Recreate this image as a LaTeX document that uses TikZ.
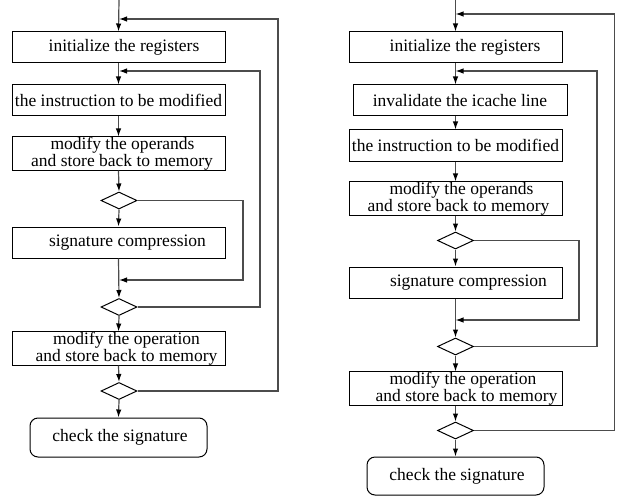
\documentclass[tikz,border=0pt]{standalone}
\usepackage{fontspec}
\setmainfont{Liberation Serif}
\usetikzlibrary{shapes.geometric,arrows.meta}
\newcommand{\sh}[1]{\hspace*{#1pt}}
\begin{document}
\begin{tikzpicture}[x=1pt,y=-1pt,
  box/.style={draw=black,line width=1pt,minimum width=213pt,minimum height=31pt,inner sep=0pt,
    align=center,font=\fontsize{17.5pt}{12.5pt}\selectfont},
  endbox/.style={box,rounded corners=8pt,minimum width=177pt,minimum height=39pt},
  dia/.style={draw=black,line width=1pt,diamond,minimum width=36pt,minimum height=17pt,inner sep=0pt},
  conn/.style={draw=black!70,line width=1.2pt},
  arr/.style={conn,-{Latex[color=black,length=8pt,width=5.5pt]}}]
\useasboundingbox (0,0) rectangle (617,497);
% ---------- left chart ----------
\node[box] (initL) at (118.5,47.5) {\sh{11}initialize the registers};
\node[box] (instrL) at (118.5,100.5) {the instruction to be modified};
\node[box] (opndL) at (118.5,153.5) {\sh{8}modify the operands\\\sh{7}and store back to memory};
\node[dia] (d1L) at (119,200.5) {};
\node[box] (sigL) at (118.5,242.5) {\sh{18}signature compression};
\node[dia] (d2L) at (119,307) {};
\node[box] (oprL) at (118.5,348.5) {\sh{16}modify the operation\\\sh{16}and store back to memory};
\node[dia] (d3L) at (119,391) {};
\node[endbox] (chkL) at (118.5,437.5) {\sh{3}check the signature};
\coordinate (topL) at (119,0);
\coordinate (jL1) at (119,19);
\coordinate (jL2) at (119,71);
\coordinate (jL3) at (119,280);
\coordinate (rL1) at (243,280);
\coordinate (rL2) at (260,71);
\coordinate (rL3) at (278,19);
\draw[arr] (topL) -- (initL.north);
\draw[arr] (initL.south) -- (instrL.north);
\draw[arr] (instrL.south) -- (opndL.north);
\draw[arr] (opndL.south) -- (d1L.north);
\draw[arr] (d1L.south) -- (sigL.north);
\draw[arr] (sigL.south) -- (d2L.north);
\draw[arr] (d2L.south) -- (oprL.north);
\draw[arr] (oprL.south) -- (d3L.north);
\draw[arr] (d3L.south) -- (chkL.north);
\draw[arr] (d1L.east) -| (rL1) -- (jL3);
\draw[arr] (d2L.east) -| (rL2) -- (jL2);
\draw[arr] (d3L.east) -| (rL3) -- (jL1);
% ---------- right chart ----------
\node[box] (initR) at (455.5,47.5) {\sh{19}initialize the registers};
\node[box,minimum width=214pt] (invR) at (460,100.5) {invalidate the icache line};
\node[box] (instrR) at (455.5,145.5) {the instruction to be modified};
\node[box] (opndR) at (455.5,198.5) {\sh{12}modify the operands\\\sh{6}and store back to memory};
\node[dia] (d1R) at (455.5,240.5) {};
\node[box] (sigR) at (455.5,282.5) {\sh{26}signature compression};
\node[dia] (d2R) at (455.5,346.5) {};
\node[box] (oprR) at (455.5,388.5) {\sh{15}modify the operation\\\sh{22}and store back to memory};
\node[dia] (d3R) at (455.5,430.5) {};
\node[endbox,minimum height=38pt] (chkR) at (455.5,476) {\sh{3}check the signature};
\coordinate (topR) at (455.5,0);
\coordinate (jR1) at (455.5,14);
\coordinate (jR2) at (455.5,71);
\coordinate (jR3) at (455.5,320);
\coordinate (rR1) at (579,320);
\coordinate (rR2) at (597,71);
\coordinate (rR3) at (614.5,14);
\draw[arr] (topR) -- (initR.north);
\draw[arr] (initR.south) -- (invR.north -| initR.south);
\draw[arr] (invR.south -| initR.south) -- (instrR.north);
\draw[arr] (instrR.south) -- (opndR.north);
\draw[arr] (opndR.south) -- (d1R.north);
\draw[arr] (d1R.south) -- (sigR.north);
\draw[arr] (sigR.south) -- (d2R.north);
\draw[arr] (d2R.south) -- (oprR.north);
\draw[arr] (oprR.south) -- (d3R.north);
\draw[arr] (d3R.south) -- (chkR.north);
\draw[arr] (d1R.east) -| (rR1) -- (jR3);
\draw[arr] (d2R.east) -| (rR2) -- (jR2);
\draw[arr] (d3R.east) -| (rR3) -- (jR1);
\end{tikzpicture}
\end{document}
